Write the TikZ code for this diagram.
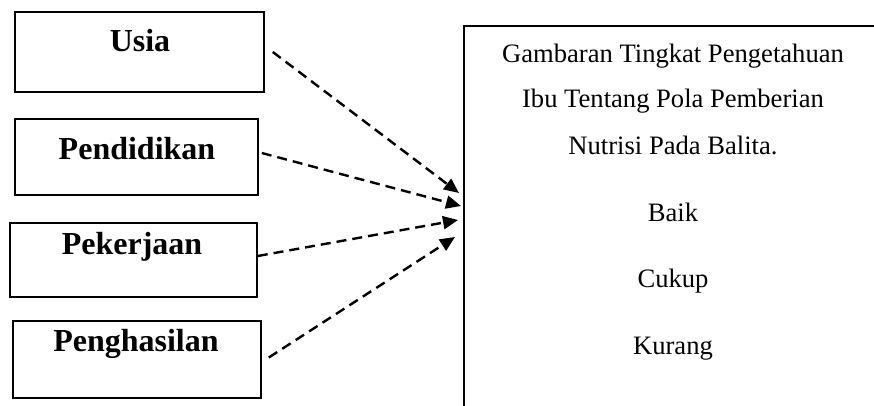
\documentclass[tikz,border=0pt]{standalone}
\usepackage{fontspec}
\setmainfont{Liberation Serif}
\usetikzlibrary{arrows.meta, positioning, calc}

\begin{document}
\begin{tikzpicture}[x=0.5pt, y=-0.5pt, >={Triangle[length=7.5pt, width=6.5pt]},
    faktor/.style={draw, line width=0.8pt, inner sep=0pt},
    label/.style={font=\fontsize{16}{19}\selectfont\bfseries, anchor=base, inner sep=0pt},
    isi/.style={font=\fontsize{13.3}{16}\selectfont, anchor=base, inner sep=0pt},
    panah/.style={->, line width=1.2pt, dash pattern=on 5pt off 3pt}]
    \useasboundingbox (0,0) rectangle (874,406);

    % kotak faktor
    \node[faktor, minimum width=124.5pt, minimum height=40pt] (usia) at (139.5, 52) {};
    \node[faktor, minimum width=121.5pt, minimum height=38pt] (pend) at (136.5, 157) {};
    \node[faktor, minimum width=123.5pt, minimum height=37pt] (kerja) at (133.5, 260) {};
    \node[faktor, minimum width=124pt, minimum height=38.5pt] (hasil) at (137, 359.5) {};

    \node[label] (lusia) at (140, 52) {Usia};
    \node[label] (lpend) at (137, 160) {Pendidikan};
    \node[label] (lkerja) at (132, 255) {Pekerjaan};
    \node[label] (lhasil) at (136, 352) {Penghasilan};

    % kotak pengetahuan
    \coordinate (K1) at (464, 406);
    \coordinate (K2) at (464, 26);
    \coordinate (K3) at (874, 26);
    \draw[line width=1pt] (K1) -- (K2) -- (K3);

    \node[isi] (j1) at (673, 63) {Gambaran Tingkat Pengetahuan};
    \node[isi] (j2) at (673, 108) {Ibu Tentang Pola Pemberian};
    \node[isi] (j3) at (673, 155) {Nutrisi Pada Balita.};
    \node[isi] (baik) at (673, 222) {Baik};
    \node[isi] (cukup) at (673, 288) {Cukup};
    \node[isi] (kurang) at (673, 355) {Kurang};

    % panah
    \coordinate (T1) at (459, 193);
    \coordinate (T2) at (461, 206);
    \coordinate (T3) at (458, 220);
    \coordinate (T4) at (455, 237);
    \draw[panah] ([xshift=4pt]usia.east) -- (T1);
    \draw[panah] ([xshift=1.5pt, yshift=2pt]pend.east) -- (T2);
    \draw[panah] ([yshift=2pt]kerja.east) -- (T3);
    \draw[panah] ([xshift=3.5pt, yshift=1pt]hasil.east) -- (T4);
\end{tikzpicture}
\end{document}
